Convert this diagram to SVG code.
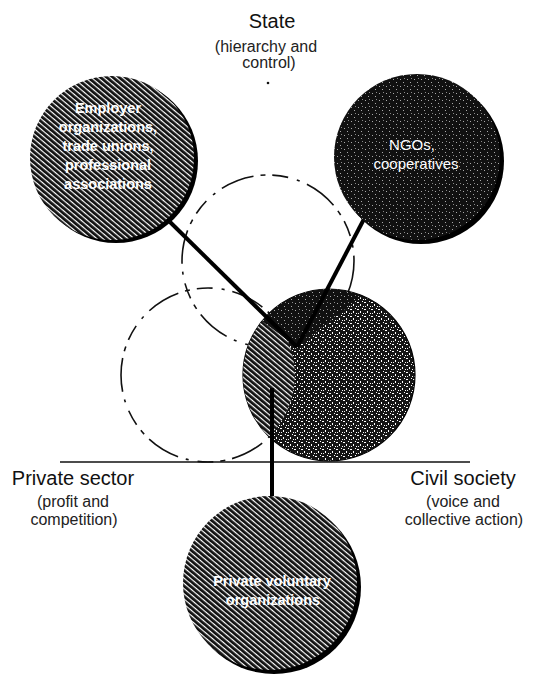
<svg xmlns="http://www.w3.org/2000/svg" width="533" height="675" viewBox="0 0 533 675">
<defs>
  <pattern id="hatch" width="4" height="4" patternUnits="userSpaceOnUse" patternTransform="rotate(40)">
    <rect width="4" height="4" fill="#111"/>
    <rect x="0" y="0" width="4" height="1.2" fill="#fff"/>
  </pattern>
  <pattern id="speckDark" width="7" height="7" patternUnits="userSpaceOnUse">
    <rect width="7" height="7" fill="#111"/>
    <rect x="1" y="2" width="1" height="1" fill="#aaa"/>
    <rect x="4" y="5" width="1" height="1" fill="#aaa"/>
    <rect x="5" y="1" width="1" height="1" fill="#888"/>
  </pattern>
  <pattern id="speck" width="7" height="7" patternUnits="userSpaceOnUse">
    <rect width="7" height="7" fill="#151515"/>
    <rect x="0" y="1" width="2" height="1" fill="#fff"/>
    <rect x="3" y="3" width="1" height="2" fill="#fff"/>
    <rect x="5" y="0" width="1" height="1" fill="#fff"/>
    <rect x="1" y="5" width="1" height="1" fill="#eee"/>
    <rect x="6" y="5" width="1" height="1" fill="#fff"/>
  </pattern>
  <clipPath id="civilClip"><circle cx="329" cy="375" r="86"/></clipPath>
  <clipPath id="privClip"><circle cx="208" cy="375" r="87"/></clipPath>
</defs>
<style>
  .title{font-family:"Liberation Sans",Arial,sans-serif;font-size:20px;fill:#111;text-anchor:middle}
  .sub{font-family:"Liberation Sans",Arial,sans-serif;font-size:16px;fill:#222;text-anchor:middle}
  .wt{font-family:"Liberation Sans",Arial,sans-serif;font-size:15px;fill:#fff;text-anchor:middle}
  .wb{font-family:"Liberation Sans",Arial,sans-serif;font-size:14.5px;font-weight:bold;fill:#fff;text-anchor:middle}
  .dash{fill:none;stroke:#111;stroke-width:1.6;stroke-dasharray:34 7 5 7 16 9 3 8}
  .conn{fill:none;stroke:#000;stroke-width:4}
  .shadow{fill:#000}
</style>

<g id="sector-labels">
  <text class="title" x="272" y="28">State</text>
  <text class="sub" x="266" y="52">(hierarchy and</text>
  <text class="sub" x="269" y="68">control)</text>
  <circle cx="268" cy="83" r="1.3" fill="#111"/>
  <text class="title" x="73" y="485">Private sector</text>
  <text class="sub" x="73" y="507">(profit and</text>
  <text class="sub" x="74" y="525">competition)</text>
  <text class="title" x="463" y="485">Civil society</text>
  <text class="sub" x="463" y="507">(voice and</text>
  <text class="sub" x="464" y="525">collective action)</text>
</g>

<g id="state-circle">
  <circle class="dash" cx="268" cy="261" r="86"/>
</g>
<g id="private-circle">
  <circle class="dash" cx="208" cy="375" r="87" stroke-dashoffset="11"/>
</g>

<g id="axis">
  <line x1="60" y1="462" x2="470" y2="462" stroke="#111" stroke-width="1.6"/>
</g>

<g id="civil-circle">
  <circle cx="329" cy="375" r="86" fill="url(#speck)" stroke="#000" stroke-width="1.2"/>
  <g clip-path="url(#civilClip)">
    <circle cx="208" cy="375" r="87" fill="url(#hatch)" clip-path="url(#privClip)"/>
  </g>
  <path d="M262,321 L297,347 L362,296 A86,86 0 0 0 262,321 Z" fill="url(#speckDark)"/>
</g>

<g id="connectors">
  <line class="conn" x1="170" y1="222" x2="297" y2="347"/>
  <line class="conn" x1="364" y1="219" x2="297" y2="347"/>
  <line class="conn" x1="272" y1="388" x2="272" y2="498"/>
</g>

<g id="node-employers">
  <circle class="shadow" cx="116" cy="161" r="82"/>
  <circle cx="112" cy="158" r="82" fill="url(#hatch)"/>
  <text class="wb" x="108" y="113">Employer</text>
  <text class="wb" x="108" y="132">organizations,</text>
  <text class="wb" x="108" y="151">trade unions,</text>
  <text class="wb" x="108" y="170">professional</text>
  <text class="wb" x="108" y="189">associations</text>
</g>

<g id="node-ngos">
  <circle class="shadow" cx="421" cy="161" r="83"/>
  <circle cx="417" cy="157" r="83" fill="url(#speckDark)"/>
  <text class="wt" x="412" y="150">NGOs,</text>
  <text class="wt" x="416" y="169">cooperatives</text>
</g>

<g id="node-pvo">
  <circle class="shadow" cx="274" cy="587" r="87"/>
  <circle cx="270" cy="583" r="87" fill="url(#hatch)"/>
  <text class="wb" x="272" y="586">Private voluntary</text>
  <text class="wb" x="273" y="605">organizations</text>
</g>
</svg>
